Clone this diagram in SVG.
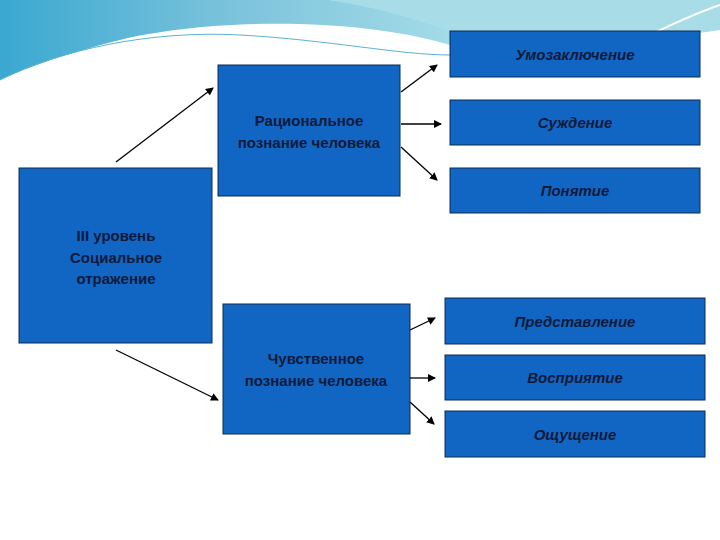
<svg xmlns="http://www.w3.org/2000/svg" width="720" height="540" viewBox="0 0 720 540">
<style>
.b{fill:#1166c4;stroke:#0b2a55;stroke-width:1}
.t{font-family:"Liberation Sans",Arial,sans-serif;font-size:15px;font-weight:bold;fill:#0d1a3a;text-anchor:middle}
.i{font-style:italic}
.c line{stroke:#000;stroke-width:1.3;marker-end:url(#a)}
</style>
<defs>
<marker id="a" markerWidth="8" markerHeight="8" refX="7" refY="4" orient="auto" markerUnits="userSpaceOnUse"><path d="M0,0 L8,4 L0,8 Z" fill="#000"/></marker>
<linearGradient id="g" x1="0" y1="0" x2="1" y2="0"><stop offset="0" stop-color="#3aa8d0"/><stop offset="0.5" stop-color="#7cc3dc"/><stop offset="1" stop-color="#a6dde8"/></linearGradient>
</defs>
<rect width="720" height="540" fill="#fff"/>
<path d="M0,0 H720 V20 C680,30 640,30 620,32 C520,35 450,5 300,0 Z" fill="url(#g)" opacity="0"/>
<path d="M0,0 H330 C420,10 500,40 450,45 C350,15 200,20 120,40 C60,55 20,70 0,80 Z" fill="url(#g)"/>
<path d="M330,0 H720 V30 C660,40 560,40 460,35 C420,20 380,8 330,0 Z" fill="#a8dde8"/>
<path d="M0,80 C60,50 150,30 240,35 C330,40 400,55 450,55" fill="none" stroke="#5bb3cf" stroke-width="1"/>
<path d="M640,40 C670,25 700,12 720,5" fill="none" stroke="#fff" stroke-width="2"/>
<g id="n1"><rect class="b" x="19" y="168" width="193" height="175"/><text class="t" x="116" y="241">III уровень</text><text class="t" x="116" y="263">Социальное</text><text class="t" x="116" y="284">отражение</text></g>
<g id="n2"><rect class="b" x="218" y="65" width="182" height="131"/><text class="t" x="309" y="126">Рациональное</text><text class="t" x="309" y="148">познание человека</text></g>
<g id="n3"><rect class="b" x="223" y="304" width="187" height="130"/><text class="t" x="316" y="364">Чувственное</text><text class="t" x="316" y="386">познание человека</text></g>
<g id="n4"><rect class="b" x="450" y="31" width="250" height="46"/><text class="t i" x="575" y="60">Умозаключение</text></g>
<g id="n5"><rect class="b" x="450" y="100" width="250" height="45"/><text class="t i" x="575" y="128">Суждение</text></g>
<g id="n6"><rect class="b" x="450" y="168" width="250" height="45"/><text class="t i" x="575" y="196">Понятие</text></g>
<g id="n7"><rect class="b" x="445" y="298" width="260" height="46"/><text class="t i" x="575" y="327">Представление</text></g>
<g id="n8"><rect class="b" x="445" y="355" width="260" height="45"/><text class="t i" x="575" y="383">Восприятие</text></g>
<g id="n9"><rect class="b" x="445" y="411" width="260" height="46"/><text class="t i" x="575" y="440">Ощущение</text></g>
<g class="c">
<line x1="116" y1="162" x2="213" y2="88"/>
<line x1="116" y1="350" x2="218" y2="400"/>
<line x1="401" y1="92" x2="437" y2="65"/>
<line x1="401" y1="124" x2="441" y2="124"/>
<line x1="401" y1="147" x2="437" y2="180"/>
<line x1="410" y1="330" x2="435" y2="318"/>
<line x1="410" y1="378" x2="435" y2="378"/>
<line x1="410" y1="402" x2="434" y2="424"/>
</g>
</svg>
